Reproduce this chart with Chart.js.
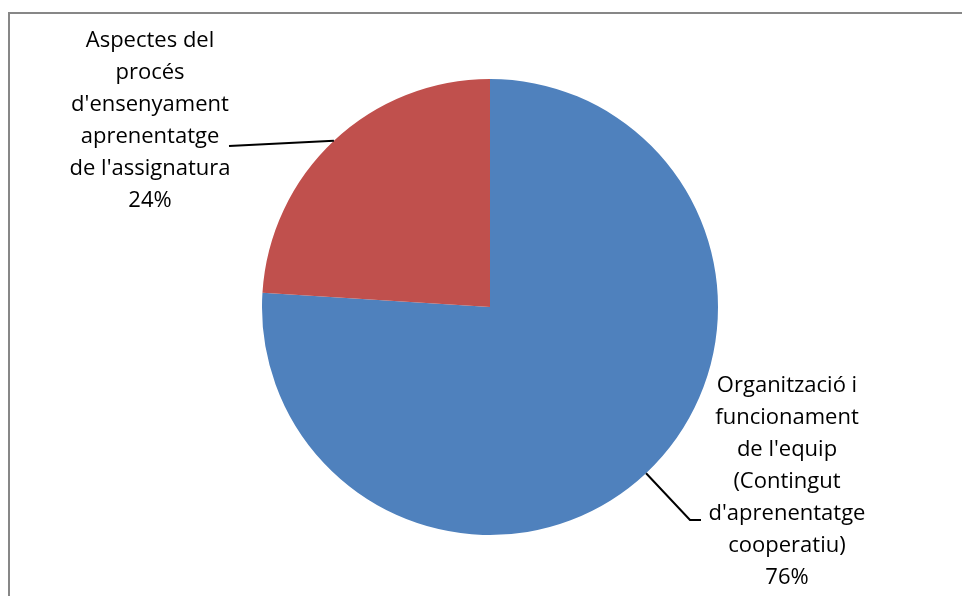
<!DOCTYPE html>
<html>
<head>
<meta charset="utf-8">
<script src="https://cdn.jsdelivr.net/npm/chart.js@4"></script>
<style>
  html, body { margin: 0; padding: 0; background: #fff; }
  #wrap { position: relative; width: 962px; height: 596px; overflow: hidden; }
  #frame { position: absolute; left: 8px; top: 12px; right: -10px; bottom: -10px;
           border-top: 2px solid #878787; border-left: 2px solid #878787; }
  #chart { position: absolute; left: 0; top: 0; }
</style>
</head>
<body>
<div id="wrap">
  <div id="frame"></div>
  <canvas id="chart" width="962" height="596"></canvas>
</div>
<script>
// values of pie chart
var categories = [
  "Organització i funcionament de l'equip (Contingut d'aprenentatge cooperatiu)",
  "Aspectes del procés d'ensenyament aprenentatge de l'assignatura"
];
var values = [76, 24];
// label text split on lines as in the picture
var labelLines = [
  ["Organització i", "funcionament", "de l'equip", "(Contingut", "d'aprenentatge", "cooperatiu)"],
  ["Aspectes del", "procés", "d'ensenyament", "aprenentatge", "de l'assignatura"]
];
var colors = ["#4F81BD", "#C0504D"];

// where each label block sits and where its leader line ends
var labelPos = [
  { x: 787, y: 386, leader: [[690, 520], [701, 520]] },
  { x: 150, y: 41, leader: [[229, 146]] }
];
var lineHeight = 32;
var labelFont = '22px "Open Sans", sans-serif';

var labelPlugin = {
  id: 'outsideLabels',
  afterDraw: function(chart) {
    var ctx = chart.ctx;
    var meta = chart.getDatasetMeta(0);
    ctx.save();
    meta.data.forEach(function(arc, i) {
      var mid = (arc.startAngle + arc.endAngle) / 2;
      var sx = arc.x + Math.cos(mid) * arc.outerRadius;
      var sy = arc.y + Math.sin(mid) * arc.outerRadius;
      ctx.beginPath();
      ctx.moveTo(sx, sy);
      labelPos[i].leader.forEach(function(p) { ctx.lineTo(p[0], p[1]); });
      ctx.strokeStyle = '#000';
      ctx.lineWidth = 2;
      ctx.stroke();

      var lines = labelLines[i].concat([values[i] + '%']);
      ctx.fillStyle = '#000';
      ctx.font = labelFont;
      ctx.textAlign = 'center';
      ctx.textBaseline = 'middle';
      lines.forEach(function(t, k) {
        ctx.fillText(t, labelPos[i].x, labelPos[i].y + k * lineHeight);
      });
    });
    ctx.restore();
  }
};

var ctx = document.getElementById("chart").getContext('2d');
var myPieChart = new Chart(ctx, {
  type: 'pie',
  data: {
    labels: categories,
    datasets: [{
      backgroundColor: colors,
      borderWidth: 0,
      data: values
    }]
  },
  options: {
    responsive: false,
    animation: false,
    layout: { padding: { left: 262, right: 244, top: 79, bottom: 61 } },
    plugins: {
      legend: { display: false },
      tooltip: { enabled: false }
    }
  },
  plugins: [labelPlugin]
});
</script>
</body>
</html>
